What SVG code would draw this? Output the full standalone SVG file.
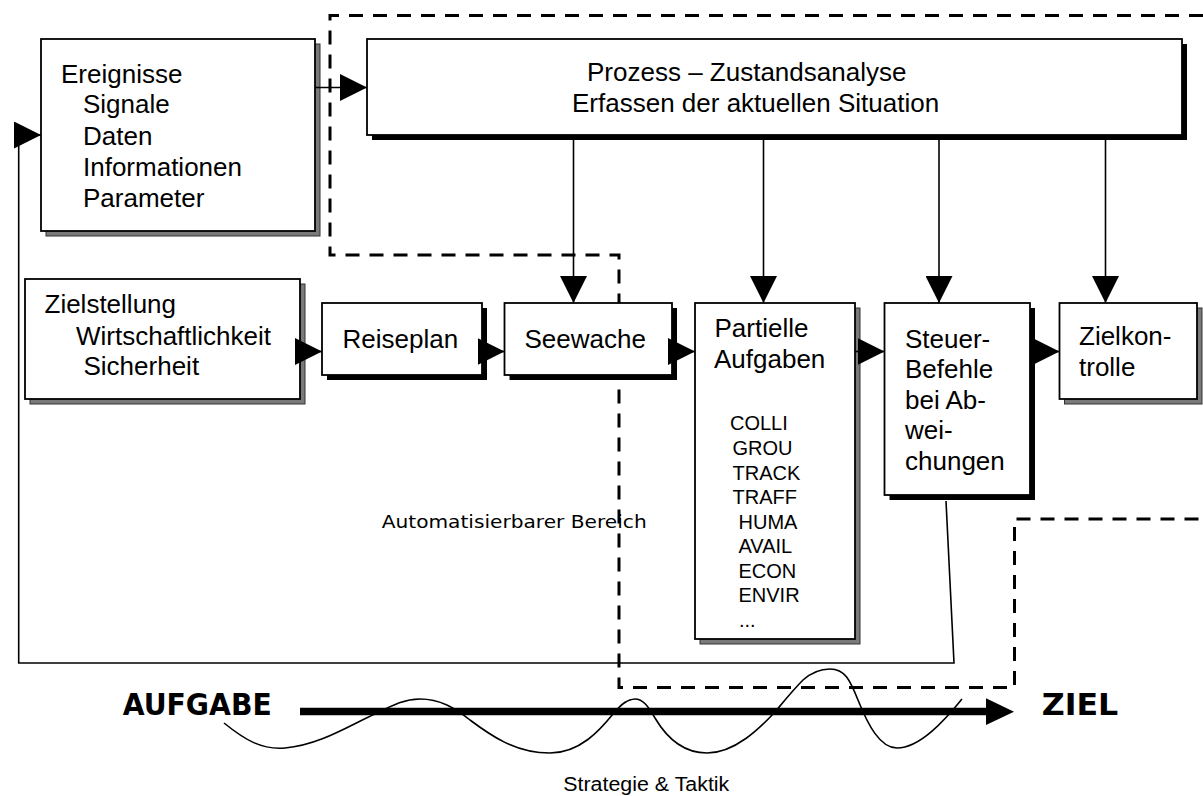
<svg xmlns="http://www.w3.org/2000/svg" width="1203" height="796" viewBox="0 0 1203 796">
<style>
.box{fill:#fff;stroke:#000;stroke-width:1.8}
.sg{fill:#7a7a7a;stroke:#333;stroke-width:1}
.sb{fill:#000}
.t{font-family:"Liberation Sans",Arial,sans-serif;font-size:26px;fill:#000}
.s{font-family:"Liberation Sans",Arial,sans-serif;font-size:20px;fill:#000}
.c{font-family:"DejaVu Sans",sans-serif;fill:#000}
.ln{fill:none;stroke:#000;stroke-width:1.6}
.dash{fill:none;stroke:#000;stroke-width:3;stroke-dasharray:14 10}
</style>
<defs>
<marker id="arr" viewBox="0 0 27 27" refX="27" refY="13.5" markerWidth="27" markerHeight="27" markerUnits="userSpaceOnUse" orient="auto">
<path d="M0,0 L27,13.5 L0,27 z" fill="#000"/>
</marker>
</defs>
<rect width="1203" height="796" fill="#fff"/>

<g id="area">
<path class="dash" d="M1203,15.5 L330,15.5 L330,255 L619,255 L619,687.5 L1014.5,687.5 L1014.5,519 L1203,519"/>
</g>

<g id="ereignisse">
<rect class="sg" x="46" y="44" width="274" height="192"/>
<rect class="box" x="41" y="39" width="274" height="192"/>
<text class="t" x="61" y="83">Ereignisse</text>
<text class="t" x="83" y="113">Signale</text>
<text class="t" x="83" y="145">Daten</text>
<text class="t" x="83" y="176">Informationen</text>
<text class="t" x="83" y="207">Parameter</text>
</g>

<g id="prozess">
<rect class="sb" x="372" y="44" width="815" height="96"/>
<rect class="box" x="367" y="39" width="815" height="96"/>
<text class="t" x="587" y="81">Prozess – Zustandsanalyse</text>
<text class="t" x="572" y="112">Erfassen der aktuellen Situation</text>
</g>

<g id="zielstellung">
<rect class="sg" x="30" y="284" width="275" height="120"/>
<rect class="box" x="25" y="279" width="275" height="120"/>
<text class="t" x="44.5" y="313">Zielstellung</text>
<text class="t" x="76" y="345">Wirtschaftlichkeit</text>
<text class="t" x="83.5" y="375">Sicherheit</text>
</g>

<g id="reiseplan">
<rect class="sb" x="327" y="308" width="160" height="72"/>
<rect class="box" x="322" y="303" width="160" height="72"/>
<text class="t" x="342.5" y="348">Reiseplan</text>
</g>

<g id="seewache">
<rect class="sb" x="509.5" y="308" width="167.5" height="72"/>
<rect class="box" x="504.5" y="303" width="167.5" height="72"/>
<text class="t" x="524.5" y="348">Seewache</text>
</g>

<g id="partielle">
<rect class="sg" x="700" y="308" width="160" height="336"/>
<rect class="box" x="695" y="303" width="160" height="336"/>
<text class="t" x="714.5" y="337">Partielle</text>
<text class="t" x="714" y="368">Aufgaben</text>
<text class="s" x="730" y="430">COLLI</text>
<text class="s" x="732.5" y="455">GROU</text>
<text class="s" x="732.5" y="479.5">TRACK</text>
<text class="s" x="732.5" y="504">TRAFF</text>
<text class="s" x="738.5" y="528.5">HUMA</text>
<text class="s" x="738.5" y="553">AVAIL</text>
<text class="s" x="738.5" y="577.5">ECON</text>
<text class="s" x="738.5" y="602">ENVIR</text>
<text class="s" x="739" y="626.5">...</text>
</g>

<g id="steuer">
<rect class="sb" x="889.5" y="308" width="145.5" height="192"/>
<rect class="box" x="884.5" y="303" width="145.5" height="192"/>
<text class="t" x="905" y="348">Steuer-</text>
<text class="t" x="905" y="378">Befehle</text>
<text class="t" x="905" y="408.5">bei Ab-</text>
<text class="t" x="905" y="438.5">wei-</text>
<text class="t" x="905" y="469.5">chungen</text>
</g>

<g id="zielkontrolle">
<rect class="sg" x="1064.5" y="308" width="137.5" height="96"/>
<rect class="box" x="1059.5" y="303" width="137.5" height="96"/>
<text class="t" x="1079" y="345">Zielkon-</text>
<text class="t" x="1079" y="376">trolle</text>
</g>

<g id="connectors">
<line class="ln" x1="315" y1="87.5" x2="367" y2="87.5" marker-end="url(#arr)"/>
<line class="ln" x1="573.5" y1="135" x2="573.5" y2="303" marker-end="url(#arr)"/>
<line class="ln" x1="763.5" y1="135" x2="763.5" y2="303" marker-end="url(#arr)"/>
<line class="ln" x1="939" y1="135" x2="939" y2="303" marker-end="url(#arr)"/>
<line class="ln" x1="1105.5" y1="135" x2="1105.5" y2="303" marker-end="url(#arr)"/>
<line class="ln" x1="300" y1="351.5" x2="322" y2="351.5" marker-end="url(#arr)"/>
<line class="ln" x1="482" y1="351.5" x2="504.5" y2="351.5" marker-end="url(#arr)"/>
<line class="ln" x1="672" y1="351.5" x2="695" y2="351.5" marker-end="url(#arr)"/>
<line class="ln" x1="855" y1="351.5" x2="884.5" y2="351.5" marker-end="url(#arr)"/>
<line class="ln" x1="1030" y1="351.5" x2="1059.5" y2="351.5" marker-end="url(#arr)"/>
<path class="ln" d="M946,501 L954,663 L18.7,663 L18.7,135 L41,135" marker-end="url(#arr)"/>
</g>

<g id="zeitachse">
<line x1="300" y1="711.5" x2="990" y2="711.5" stroke="#000" stroke-width="7.5"/>
<polygon points="986,698.3 1014,711.7 986,725" fill="#000"/>
<path class="ln" d="M224,723 C245,740 262,750 285,748 C320,745 350,725 375,714 C395,704 405,699 420,699 C440,699 455,708 470,720 C490,735 515,753 550,753 C580,753 600,730 613,714 C622,703 628,699 635,699 C643,699 648,706 655,718 C668,740 685,753 707,753 C735,753 760,728 775,712 C785,700 793,690 803,680 C812,672 822,669 830,669 C845,669 850,680 858,700 C868,725 880,748 897,748 C920,748 945,720 962,699"/>
<text class="c" x="122.7" y="715" font-size="31" font-weight="bold" textLength="149" lengthAdjust="spacingAndGlyphs">AUFGABE</text>
<text class="c" x="1041.7" y="715" font-size="31" font-weight="bold" textLength="76.6" lengthAdjust="spacingAndGlyphs">ZIEL</text>
<text class="c" x="381.7" y="528.3" font-size="18" textLength="265" lengthAdjust="spacingAndGlyphs">Automatisierbarer Bereich</text>
<text class="s" x="563.3" y="790.7" font-size="20.5" textLength="166" lengthAdjust="spacingAndGlyphs">Strategie &amp; Taktik</text>
</g>
</svg>
